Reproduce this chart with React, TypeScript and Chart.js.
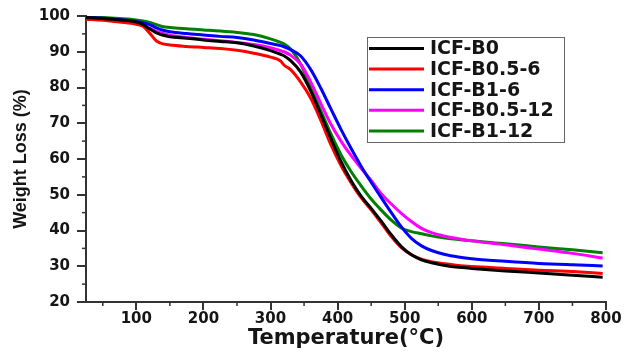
import React, { useEffect, useRef } from "react";
import { Chart, registerables } from "chart.js";

Chart.register(...registerables);

const temps = [25, 50, 75, 100, 110, 120, 130, 140, 150, 175, 200, 225, 250, 275, 300, 315, 320, 330, 345, 360, 375, 390, 405, 420, 435, 450, 465, 480, 495, 510, 525, 540, 560, 580, 600, 650, 700, 750, 795];

const icfB0 = [99.6, 99.3, 98.9, 98.3, 97.6, 96.4, 95.3, 94.6, 94.2, 93.8, 93.3, 92.9, 92.5, 91.6, 90.3, 89.3, 88.9, 87.5, 84.3, 79.0, 72.5, 65.7, 59.3, 54.0, 49.6, 46.2, 42.6, 38.8, 35.5, 33.2, 31.8, 31.0, 30.2, 29.7, 29.4, 28.7, 28.1, 27.5, 26.9];
const icfB05_6 = [99.1, 98.8, 98.3, 97.7, 97.1, 95.2, 93.0, 92.2, 91.9, 91.5, 91.2, 90.9, 90.4, 89.6, 88.5, 87.4, 86.3, 85.0, 81.5, 77.0, 70.8, 64.0, 58.2, 53.4, 49.2, 45.8, 42.1, 38.3, 35.2, 33.2, 32.0, 31.3, 30.7, 30.2, 29.9, 29.4, 28.9, 28.5, 28.0];
const icfB1_6 = [99.6, 99.4, 99.0, 98.5, 98.1, 97.6, 96.7, 96.0, 95.6, 95.1, 94.7, 94.3, 94.0, 93.3, 92.3, 91.7, 91.4, 90.6, 88.8, 85.0, 79.8, 74.0, 68.3, 63.0, 58.0, 53.5, 49.2, 45.0, 41.0, 37.8, 35.7, 34.4, 33.3, 32.6, 32.1, 31.4, 30.8, 30.4, 30.1];
const icfB05_12 = [99.5, 99.3, 98.9, 98.1, 97.5, 96.6, 95.7, 95.1, 94.6, 94.0, 93.5, 93.1, 92.6, 92.0, 91.1, 90.3, 90.0, 89.0, 86.5, 81.5, 75.5, 69.7, 65.0, 61.0, 57.4, 54.0, 50.3, 47.4, 44.8, 42.5, 40.6, 39.4, 38.4, 37.7, 37.1, 36.0, 34.8, 33.6, 32.3];
const icfB1_12 = [99.7, 99.6, 99.3, 98.9, 98.6, 98.2, 97.6, 97.0, 96.8, 96.4, 96.1, 95.8, 95.4, 94.8, 93.6, 92.6, 92.2, 90.8, 86.5, 80.0, 73.5, 67.0, 61.2, 56.5, 52.5, 48.8, 45.7, 42.9, 40.7, 39.7, 39.1, 38.5, 37.9, 37.5, 37.1, 36.3, 35.4, 34.6, 33.8];

const seriesNames = ["ICF-B0", "ICF-B0.5-6", "ICF-B1-6", "ICF-B0.5-12", "ICF-B1-12"];
const seriesValues = [icfB0, icfB05_6, icfB1_6, icfB05_12, icfB1_12];
const seriesColors = ["#000000", "#ff0000", "#0000ff", "#ff00ff", "#008000"];

const xTicks = [100, 200, 300, 400, 500, 600, 700, 800];
const xMinor = [50, 150, 250, 350, 450, 550, 650, 750];
const yMinor = [25, 35, 45, 55, 65, 75, 85, 95];

const axisColor = "#333333";
const textColor = "#151515";
const fontFamily = "'DejaVu Sans', sans-serif";

const minorTicksPlugin = {
  id: "minorTicks",
  afterDraw(chart: any) {
    const { ctx, scales } = chart;
    const x = scales.x;
    const y = scales.y;
    ctx.save();
    ctx.strokeStyle = axisColor;
    ctx.lineWidth = 1.5;
    xMinor.forEach((v) => {
      const px = x.getPixelForValue(v);
      ctx.beginPath();
      ctx.moveTo(px, x.top);
      ctx.lineTo(px, x.top + 4);
      ctx.stroke();
    });
    yMinor.forEach((v) => {
      const py = y.getPixelForValue(v);
      ctx.beginPath();
      ctx.moveTo(y.right, py);
      ctx.lineTo(y.right - 4, py);
      ctx.stroke();
    });
    ctx.restore();
  },
};

const boxLegendPlugin = {
  id: "boxLegend",
  afterDraw(chart: any) {
    const { ctx, chartArea } = chart;
    const bx = chartArea.left + 281;
    const by = chartArea.top + 21;
    const bw = 197;
    const bh = 105;
    ctx.save();
    ctx.strokeStyle = "#666666";
    ctx.lineWidth = 1;
    ctx.strokeRect(bx + 0.5, by + 0.5, bw, bh);
    ctx.font = "bold 19px " + fontFamily;
    ctx.textBaseline = "middle";
    ctx.textAlign = "left";
    chart.data.datasets.forEach((ds: any, i: number) => {
      const cy = by + 11.5 + i * 20.6;
      ctx.strokeStyle = ds.borderColor;
      ctx.lineWidth = 3;
      ctx.beginPath();
      ctx.moveTo(bx + 2, cy);
      ctx.lineTo(bx + 57, cy);
      ctx.stroke();
      ctx.fillStyle = textColor;
      ctx.fillText(ds.label, bx + 63, cy + 1);
    });
    ctx.restore();
  },
};

export default function App() {
  const canvasRef = useRef<HTMLCanvasElement | null>(null);

  useEffect(() => {
    document.body.style.margin = "0";
    const canvas = canvasRef.current;
    if (!canvas) return;
    const datasets = seriesNames.map((name, i) => ({
      label: name,
      data: temps.map((t, j) => ({ x: t, y: seriesValues[i][j] })),
      borderColor: seriesColors[i],
      backgroundColor: seriesColors[i],
      borderWidth: 3,
      pointRadius: 0,
      fill: false,
      cubicInterpolationMode: "monotone" as const,
    }));
    const chart = new Chart(canvas, {
      type: "line",
      data: { datasets },
      options: {
        animation: false,
        responsive: false,
        maintainAspectRatio: false,
        layout: { padding: { top: 15, right: 18, left: 0, bottom: 0 } },
        plugins: {
          legend: { display: false },
          tooltip: { enabled: false },
        },
        scales: {
          x: {
            type: "linear",
            min: 25,
            max: 800,
            afterBuildTicks: (s: any) => {
              s.ticks = xTicks.map((v) => ({ value: v }));
            },
            afterFit: (s: any) => {
              s.height = 50;
            },
            grid: {
              drawOnChartArea: false,
              drawTicks: true,
              tickLength: 8,
              color: axisColor,
              lineWidth: 2,
            },
            border: { color: axisColor, width: 2 },
            ticks: {
              color: textColor,
              font: { family: fontFamily, size: 15, weight: "bold" },
              padding: 0,
              maxRotation: 0,
              autoSkip: false,
            },
            title: {
              display: true,
              text: "Temperature(°C)",
              color: textColor,
              font: { family: fontFamily, size: 21, weight: "bold" },
              padding: { top: 0, bottom: 1 },
            },
          },
          y: {
            min: 20,
            max: 100,
            afterFit: (s: any) => {
              s.width = 86;
            },
            grid: {
              drawOnChartArea: false,
              drawTicks: true,
              tickLength: 9,
              color: axisColor,
              lineWidth: 2,
            },
            border: { color: axisColor, width: 2 },
            ticks: {
              stepSize: 10,
              color: textColor,
              font: { family: fontFamily, size: 15, weight: "bold" },
              padding: 7,
            },
            title: {
              display: true,
              text: "Weight Loss (%)",
              color: textColor,
              font: { family: "'Liberation Sans', Arial, sans-serif", size: 18, weight: "bold" },
              padding: { top: 10, bottom: 0 },
            },
          },
        },
      },
      plugins: [minorTicksPlugin, boxLegendPlugin],
    });
    return () => chart.destroy();
  }, []);

  return (
    <div style={{ width: 624, height: 352, background: "#ffffff" }}>
      <canvas ref={canvasRef} width={624} height={352} style={{ display: "block" }} />
    </div>
  );
}
